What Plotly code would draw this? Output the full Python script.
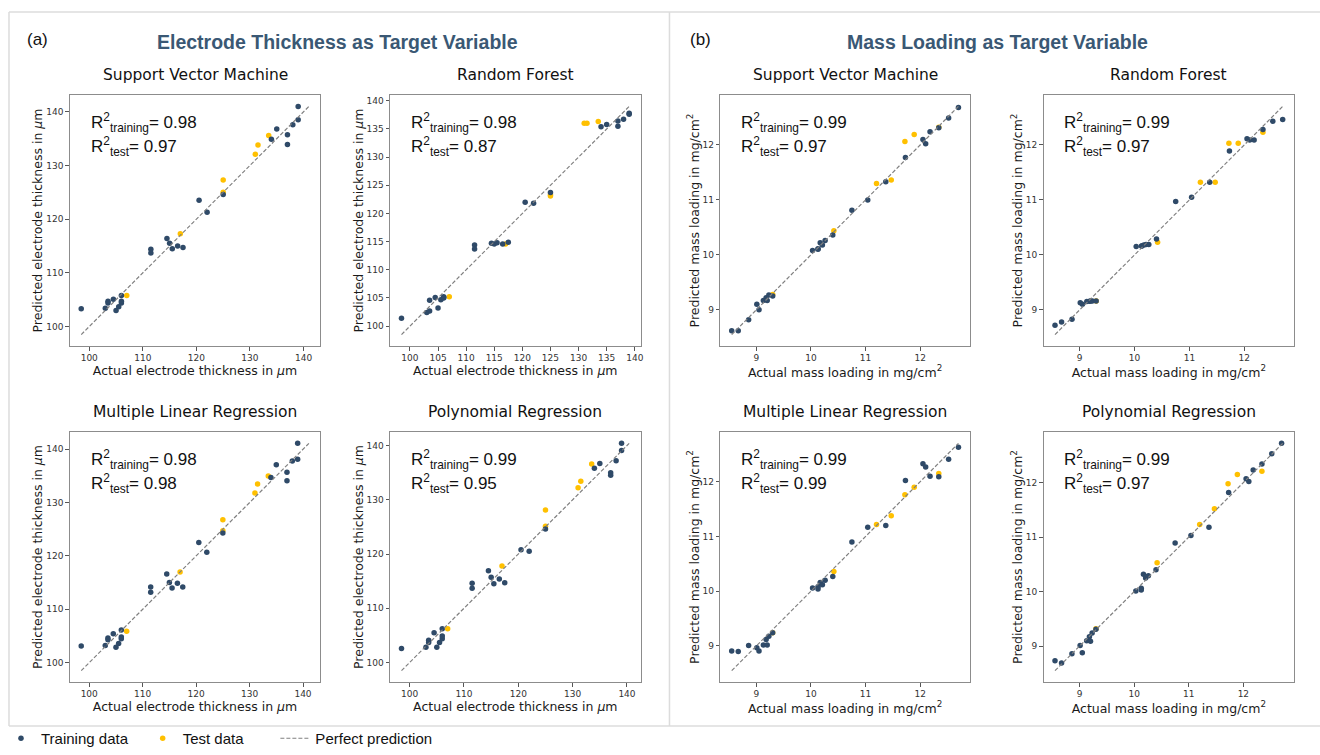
import plotly.graph_objects as go

W, H = 1320, 755

# ---------------- data ----------------
thk_train_x = [98.5, 103, 103.5, 103.5, 104.5, 105, 105.5, 106, 106, 106, 111.5, 111.5, 114.5, 115, 115.5,
               116.5, 117.5, 120.5, 122, 125, 134, 135, 137, 137, 138, 139, 139]
thk_test_x = [107, 117, 125, 125, 131, 131.5, 133.5]

svm_thk_train = [103.3, 103.4, 104.7, 104.4, 105.1, 103.0, 103.7, 104.4, 104.7, 105.8, 114.4, 113.7, 116.4, 115.5,
                 114.5, 115.0, 114.7, 123.5, 121.3, 124.6, 134.9, 136.8, 135.7, 133.9, 137.6, 141.0, 138.5]
svm_thk_test = [105.8, 117.3, 127.3, 125.0, 132.1, 133.8, 135.6]

rf_thk_train = [101.4, 102.4, 102.7, 104.6, 105.1, 103.2, 104.7, 105.1, 105.2, 105.0, 114.4, 113.7, 114.7, 114.6,
                114.8, 114.6, 114.9, 122.0, 121.8, 123.7, 135.4, 135.8, 136.4, 135.5, 136.7, 137.8, 137.6]
rf_thk_test = [105.2, 114.6, 123.1, 123.3, 136.0, 136.0, 136.3]

mlr_thk_train = [103.1, 103.2, 104.6, 104.3, 105.4, 102.9, 103.6, 104.5, 104.8, 106.1, 114.2, 113.2, 116.6, 115.0,
                 114.0, 114.9, 114.2, 122.5, 120.7, 124.3, 134.7, 137.1, 135.7, 134.1, 137.8, 141.1, 138.1]
mlr_thk_test = [105.9, 117.0, 126.8, 124.7, 131.8, 133.5, 135.0]

poly_thk_train = [102.6, 102.8, 104.1, 103.7, 105.5, 102.8, 103.7, 104.4, 104.9, 106.2, 114.6, 113.7, 116.9, 115.7,
                  114.5, 115.4, 114.7, 120.8, 120.5, 124.6, 135.8, 136.7, 135.0, 134.5, 137.2, 140.4, 139.1]
poly_thk_test = [106.2, 117.8, 128.1, 125.1, 132.2, 133.4, 136.6]

mass_train_x = [8.55, 8.67, 8.86, 9.01, 9.05, 9.13, 9.18, 9.2, 9.23, 9.3, 10.03, 10.13, 10.13, 10.17, 10.21, 10.26,
                10.4, 10.75, 11.04, 11.37, 11.73, 12.05, 12.1, 12.18, 12.34, 12.52, 12.7]
mass_test_x = [9.3, 10.42, 11.2, 11.47, 11.72, 11.89, 12.34]

svm_mass_train = [8.62, 8.62, 8.82, 9.10, 9.00, 9.17, 9.22, 9.17, 9.27, 9.25, 10.08, 10.10, 10.11, 10.22, 10.18,
                  10.26, 10.36, 10.81, 11.00, 11.33, 11.77, 12.10, 12.02, 12.24, 12.31, 12.49, 12.68]
svm_mass_test = [9.28, 10.44, 11.30, 11.36, 12.06, 12.19, 12.32]

rf_mass_train = [8.72, 8.78, 8.83, 9.13, 9.10, 9.15, 9.155, 9.16, 9.16, 9.16, 10.15, 10.16, 10.16, 10.18, 10.19,
                 10.19, 10.29, 10.97, 11.05, 11.32, 11.89, 12.11, 12.09, 12.09, 12.28, 12.43, 12.46]
rf_mass_test = [9.16, 10.23, 11.32, 11.32, 12.03, 12.03, 12.23]

mlr_mass_train = [8.91, 8.90, 9.01, 8.97, 8.91, 9.02, 9.12, 9.02, 9.18, 9.24, 10.06, 10.04, 10.08, 10.16, 10.12,
                  10.20, 10.27, 10.90, 11.17, 11.20, 12.02, 12.33, 12.27, 12.10, 12.09, 12.41, 12.63]
mlr_mass_test = [9.24, 10.36, 11.22, 11.38, 11.76, 11.90, 12.15]

poly_mass_train = [8.73, 8.69, 8.86, 9.01, 8.88, 9.10, 9.17, 9.09, 9.24, 9.31, 10.01, 10.06, 10.03, 10.32, 10.25,
                   10.29, 10.40, 10.89, 11.03, 11.18, 11.82, 12.07, 12.02, 12.23, 12.34, 12.53, 12.72]
poly_mass_test = [9.32, 10.53, 11.23, 11.52, 11.98, 12.15, 12.21]

model_titles = ["Support Vector Machine", "Random Forest", "Multiple Linear Regression", "Polynomial Regression"]
r2_train_thk = ["0.98", "0.98", "0.98", "0.99"]
r2_test_thk = ["0.97", "0.87", "0.98", "0.95"]
r2_train_mass = ["0.99", "0.99", "0.99", "0.99"]
r2_test_mass = ["0.97", "0.97", "0.99", "0.97"]
thk_dticks = [10, 5, 10, 10]
mass_dticks = [1, 1, 1, 1]

section_titles = ["Electrode Thickness as Target Variable", "Mass Loading as Target Variable"]
section_labels = ["(a)", "(b)"]
thk_xlabel = "Actual electrode thickness in <i>μ</i>m"
thk_ylabel = "Predicted electrode thickness in <i>μ</i>m"
mass_xlabel = "Actual mass loading in mg/cm<sup>2</sup>"
mass_ylabel = "Predicted mass loading in mg/cm<sup>2</sup>"
legend_names = ["Training data", "Test data", "Perfect prediction"]

# ---------------- styling / layout ----------------
TRAIN_C = "#2f4a68"
TEST_C = "#FFC000"
LINE_C = "#808080"
FRAME_C = "#8c8c8c"
TITLE_C = "#3a5874"
DV = "DejaVu Sans"
AR = "Liberation Sans, Arial, sans-serif"

# pixel boxes of the 8 plot areas (left, right, top, bottom)
cols_px = [(70, 321), (391, 642), (722, 972), (1046, 1297)]
rows_px = [(95, 346), (432, 682)]

panels = [
    (thk_train_x, svm_thk_train, thk_test_x, svm_thk_test, r2_train_thk[0], r2_test_thk[0], model_titles[0], thk_dticks[0], thk_xlabel, thk_ylabel, 0, 0),
    (thk_train_x, rf_thk_train, thk_test_x, rf_thk_test, r2_train_thk[1], r2_test_thk[1], model_titles[1], thk_dticks[1], thk_xlabel, thk_ylabel, 1, 0),
    (thk_train_x, mlr_thk_train, thk_test_x, mlr_thk_test, r2_train_thk[2], r2_test_thk[2], model_titles[2], thk_dticks[2], thk_xlabel, thk_ylabel, 0, 1),
    (thk_train_x, poly_thk_train, thk_test_x, poly_thk_test, r2_train_thk[3], r2_test_thk[3], model_titles[3], thk_dticks[3], thk_xlabel, thk_ylabel, 1, 1),
    (mass_train_x, svm_mass_train, mass_test_x, svm_mass_test, r2_train_mass[0], r2_test_mass[0], model_titles[0], mass_dticks[0], mass_xlabel, mass_ylabel, 2, 0),
    (mass_train_x, rf_mass_train, mass_test_x, rf_mass_test, r2_train_mass[1], r2_test_mass[1], model_titles[1], mass_dticks[1], mass_xlabel, mass_ylabel, 3, 0),
    (mass_train_x, mlr_mass_train, mass_test_x, mlr_mass_test, r2_train_mass[2], r2_test_mass[2], model_titles[2], mass_dticks[2], mass_xlabel, mass_ylabel, 2, 1),
    (mass_train_x, poly_mass_train, mass_test_x, poly_mass_test, r2_train_mass[3], r2_test_mass[3], model_titles[3], mass_dticks[3], mass_xlabel, mass_ylabel, 3, 1),
]

fig = go.Figure()
layout = dict(
    width=W, height=H, margin=dict(l=0, r=0, t=0, b=0),
    paper_bgcolor="white", plot_bgcolor="white",
    font=dict(family=DV, color="#222"),
    showlegend=True,
)
annotations = []
shapes = []

for i, (xtr, ytr, xte, yte, r2tr, r2te, title, dtick, xl, yl, c, r) in enumerate(panels):
    n = i + 1
    xs = "" if n == 1 else str(n)
    xa, ya = "x" + xs, "y" + xs
    lo = min(xtr + ytr + xte + yte)
    hi = max(xtr + ytr + xte + yte)
    pad = 0.05 * (hi - lo)
    rng = [lo - pad, hi + pad]
    first = (n == 1)
    fig.add_trace(go.Scatter(x=xte, y=yte, mode="markers", xaxis=xa, yaxis=ya,
                             marker=dict(color=TEST_C, size=5.5), name=legend_names[1],
                             legendgroup="test", showlegend=first, legend="legend2"))
    fig.add_trace(go.Scatter(x=xtr, y=ytr, mode="markers", xaxis=xa, yaxis=ya,
                             marker=dict(color=TRAIN_C, size=5.5), name=legend_names[0],
                             legendgroup="train", showlegend=first, legend="legend"))
    fig.add_trace(go.Scatter(x=[lo, hi], y=[lo, hi], mode="lines", xaxis=xa, yaxis=ya,
                             line=dict(color=LINE_C, width=1.2, dash="4px,2px"), name=legend_names[2],
                             legendgroup="line", showlegend=first, legend="legend3"))
    L, R = cols_px[c]
    T, B = rows_px[r]
    axcommon = dict(showline=True, mirror=True, linecolor=FRAME_C, linewidth=1, ticks="outside",
                    ticklen=3.5, tickwidth=1, tickcolor="#555", showgrid=False, zeroline=False,
                    tickfont=dict(family=DV, size=9, color="#333"), range=rng, dtick=dtick, tick0=0)
    layout["xaxis" + xs] = dict(axcommon, domain=[L / W, R / W], anchor=ya,
                                title=dict(text=xl, font=dict(family=DV, size=12.5, color="#1a1a1a"), standoff=2))
    layout["yaxis" + xs] = dict(axcommon, domain=[1 - B / H, 1 - T / H], anchor=xa,
                                title=dict(text=yl, font=dict(family=DV, size=12.5, color="#1a1a1a"), standoff=0))
    annotations.append(dict(text=title, x=(L + R) / 2 / W, y=1 - (T - 20) / H, xref="paper", yref="paper",
                            showarrow=False, xanchor="center", yanchor="middle",
                            font=dict(family=DV, size=15.5, color="#111")))
    annotations.append(dict(text="R<sup>2</sup><sub>training</sub>= " + r2tr, x=0.075, y=0.89,
                            xref=xa + " domain", yref=ya + " domain", showarrow=False,
                            xanchor="left", yanchor="middle", font=dict(family=AR, size=17, color="#111")))
    annotations.append(dict(text="R<sup>2</sup><sub>test</sub>= " + r2te, x=0.075, y=0.793,
                            xref=xa + " domain", yref=ya + " domain", showarrow=False,
                            xanchor="left", yanchor="middle", font=dict(family=AR, size=17, color="#111")))

for k, (cx, lx) in enumerate([(338, 38), (1000, 702)]):
    annotations.append(dict(text="<b>" + section_titles[k] + "</b>", x=cx / W, y=1 - 42 / H, xref="paper",
                            yref="paper", showarrow=False, xanchor="center", yanchor="middle",
                            font=dict(family=AR, size=19.5, color=TITLE_C)))
    annotations.append(dict(text=section_labels[k], x=lx / W, y=1 - 39 / H, xref="paper", yref="paper",
                            showarrow=False, xanchor="center", yanchor="middle",
                            font=dict(family=AR, size=17, color="#111")))

fc = "#dcdcdc"
for (x0, y0, x1, y1) in [(9, 12, 1330, 12), (9, 726, 1330, 726), (9, 12, 9, 726), (671, 12, 671, 726)]:
    shapes.append(dict(type="line", xref="paper", yref="paper", x0=x0 / W, x1=x1 / W, y0=1 - y0 / H,
                       y1=1 - y1 / H, line=dict(color=fc, width=1.5)))

layout["annotations"] = annotations
layout["shapes"] = shapes
leg_common = dict(orientation="h", xanchor="left", y=0, yanchor="bottom",
                  font=dict(family=AR, size=15, color="#111"), bgcolor="rgba(0,0,0,0)", itemwidth=30)
layout["legend"] = dict(leg_common, x=1 / W)
layout["legend2"] = dict(leg_common, x=143 / W)
layout["legend3"] = dict(leg_common, x=276 / W)
fig.update_layout(**layout)
fig.write_html("out.html", config={"displayModeBar": False},
               post_script="document.body.style.margin='0px';")
